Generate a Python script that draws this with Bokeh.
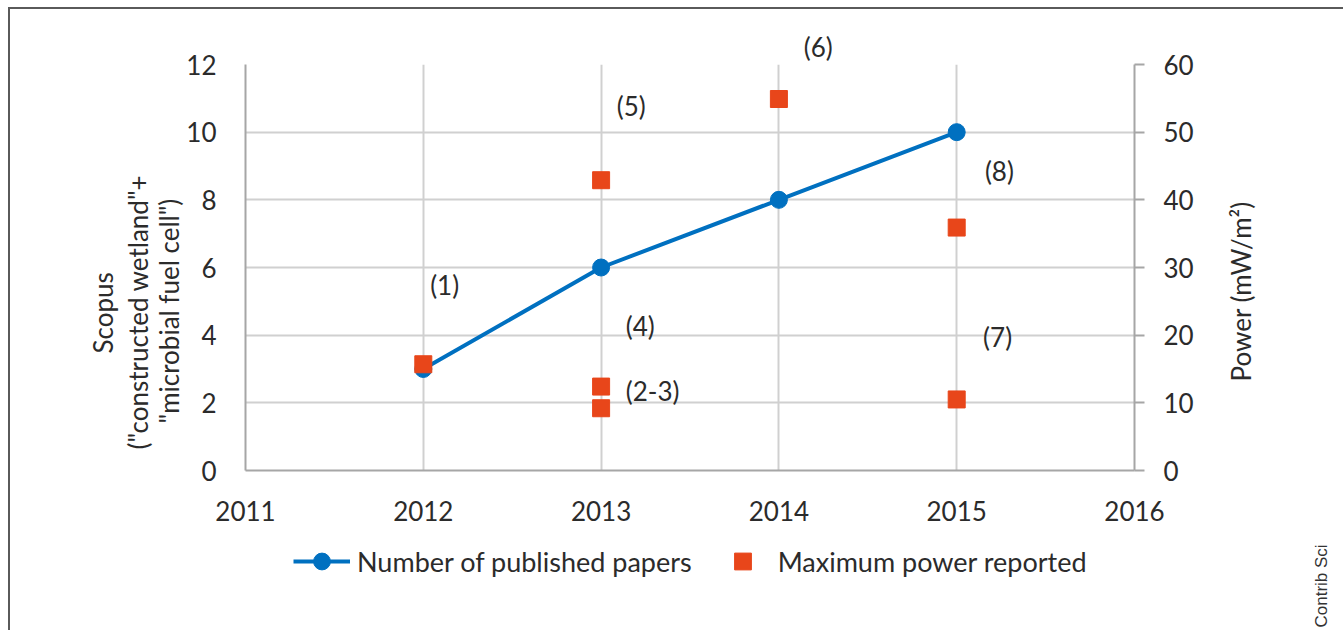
from math import pi
from bokeh.plotting import figure
from bokeh.layouts import column
from bokeh.models import (Range1d, LinearAxis, Legend, LegendItem, LabelSet,
                          ColumnDataSource, FixedTicker, Title)
from bokeh.core.properties import value
from bokeh.embed import file_html
from bokeh.resources import INLINE

# ---- data ----
years = [2012, 2013, 2014, 2015]
papers = [3, 6, 8, 10]
power_years = [2012, 2013, 2013, 2013, 2014, 2015, 2015]
power = [15.7, 42.9, 12.4, 9.2, 54.9, 35.9, 10.5]
ann_text = ["(1)", "(2-3)", "(4)", "(5)", "(6)", "(7)", "(8)"]
ann_x = [2012.12, 2013.29, 2013.22, 2013.17, 2014.23, 2015.23, 2015.24]
ann_y = [5.47, 2.36, 4.26, 10.76, 12.52, 3.96, 8.84]
x_ticks = [2011, 2012, 2013, 2014, 2015, 2016]
left_ticks = [0, 2, 4, 6, 8, 10, 12]
right_ticks = [0, 10, 20, 30, 40, 50, 60]
left_title = ["Scopus", "(\"constructed wetland\"+", "\"microbial fuel cell\")"]
right_title = "Power (mW/m²)"
legend_labels = ["Number of published papers", "Maximum power reported"]
credit = "Contrib Sci"

FONT = "Lato"
TXT = "#2b2b2b"
AX = "#a6a6a6"
GRID = "#d0d0d0"
BLUE = "#0070c0"
RED = "#e8461a"
FS = "26px"
BORDER = "2px solid #5a5a5a"

FRAME_W = 889
p = figure(width=1333, height=521, output_backend="svg", toolbar_location=None,
           x_range=Range1d(2011, 2016), y_range=Range1d(0, 12),
           min_border_left=235, min_border_right=209, min_border_top=55,
           min_border_bottom=60)
p.outline_line_color = None
p.extra_y_ranges = {"power": Range1d(0, 60)}

# axes styling
p.xaxis.ticker = FixedTicker(ticks=x_ticks)
p.yaxis.ticker = FixedTicker(ticks=left_ticks)
for ax in (p.xaxis[0], p.yaxis[0]):
    ax.axis_line_color = AX
    ax.axis_line_width = 2
    ax.major_tick_line_color = None
    ax.minor_tick_line_color = None
    ax.major_label_text_font = FONT
    ax.major_label_text_font_size = FS
    ax.major_label_text_color = TXT
p.yaxis.major_label_standoff = 23
p.xaxis.major_label_standoff = 24

raxis = LinearAxis(y_range_name="power", ticker=FixedTicker(ticks=right_ticks))
raxis.axis_line_color = AX
raxis.axis_line_width = 2
raxis.major_tick_line_color = AX
raxis.major_tick_line_width = 2
raxis.major_tick_out = 10
raxis.major_tick_in = 0
raxis.minor_tick_line_color = None
raxis.major_label_standoff = 19
raxis.major_label_text_font = FONT
raxis.major_label_text_font_size = FS
raxis.major_label_text_color = TXT
p.add_layout(raxis, "right")

# right title: a single rotated tick label on a bare axis, placed at a chosen height
RT_POS = 2.63
rtitle = LinearAxis(ticker=FixedTicker(ticks=[RT_POS]),
                    major_label_overrides={RT_POS: right_title, str(RT_POS): right_title})
rtitle.axis_line_color = None
rtitle.major_tick_line_color = None
rtitle.minor_tick_line_color = None
rtitle.major_tick_out = 0
rtitle.major_label_orientation = pi / 2
rtitle.major_label_standoff = 45
rtitle.major_label_text_font = FONT
rtitle.major_label_text_font_size = FS
rtitle.major_label_text_color = TXT
p.add_layout(rtitle, "right")

p.xgrid.ticker = FixedTicker(ticks=x_ticks)
p.ygrid.ticker = FixedTicker(ticks=left_ticks)
p.xgrid.grid_line_color = GRID
p.ygrid.grid_line_color = GRID
p.xgrid.grid_line_width = 2
p.ygrid.grid_line_width = 2

# series
src = ColumnDataSource(dict(x=years, y=papers))
psrc = ColumnDataSource(dict(x=power_years, y=power))
p.line("x", "y", source=src, line_color=BLUE, line_width=4)
p.scatter("x", "y", source=src, marker="circle", size=17,
          fill_color=BLUE, line_color=BLUE)
p.scatter("x", "y", source=psrc, y_range_name="power", marker="square",
          size=17, fill_color=RED, line_color=RED)

# annotations inside the plot area
inside = [i for i in range(len(ann_text)) if ann_y[i] <= 12]
asrc = ColumnDataSource(dict(x=[ann_x[i] for i in inside],
                             y=[ann_y[i] for i in inside],
                             t=[ann_text[i] for i in inside]))
p.add_layout(LabelSet(x="x", y="y", text="t", source=asrc,
                      text_align="center", text_baseline="middle",
                      text_font=value(FONT), text_font_size=FS, text_color=TXT))
# annotation above the plot area, as a title in the top panel
for i in range(len(ann_text)):
    if ann_y[i] > 12:
        off = (ann_x[i] - 2011) / 5 * FRAME_W - 16
        p.add_layout(Title(text=ann_text[i], align="left", offset=off, standoff=3,
                           text_font=FONT, text_font_size=FS,
                           text_font_style="normal", text_color=TXT), "above")

# left axis title: three stacked titles (closest to axis first)
stand = [-3, -3, 5]
offs = [47, 21, 117]
for t, s, o in zip(reversed(left_title), stand, offs):
    p.add_layout(Title(text=t, align="left", offset=o, standoff=s,
                       text_font=FONT, text_font_size=FS, text_font_style="normal",
                       text_color=TXT), "left")

# bottom strip: legend and credit text
p3 = figure(width=1333, height=100, output_backend="svg", toolbar_location=None,
            x_range=Range1d(2011, 2016), y_range=Range1d(100, 200),
            min_border_left=235, min_border_right=209, min_border_top=0,
            min_border_bottom=0, x_axis_type=None, y_axis_type=None)
p3.outline_line_color = None
p3.extra_y_ranges = {"credit": Range1d(0, 100), "power": Range1d(100, 200)}
# legend proxies share the real data; it lies outside this strip's view
l_r = p3.line(years, papers, line_color=BLUE, line_width=4)
c_r = p3.scatter(years, papers, marker="circle", size=17, fill_color=BLUE,
                 line_color=BLUE)
s_r = p3.scatter(power_years, power, y_range_name="power", marker="square",
                 size=17, fill_color=RED, line_color=RED)
legend = Legend(items=[
    LegendItem(label=legend_labels[0], renderers=[l_r, c_r]),
    LegendItem(label=legend_labels[1], renderers=[s_r]),
], location=(48, 48), orientation="horizontal", padding=0, margin=0,
    border_line_color=None, background_fill_alpha=0,
    glyph_width=57, glyph_height=42, label_standoff=7, spacing=22,
    label_text_font=FONT, label_text_font_size="27px", label_text_color=TXT)
p3.add_layout(legend, "center")

CR_POS = 3
cr_axis = LinearAxis(y_range_name="credit", ticker=FixedTicker(ticks=[CR_POS]),
                     major_label_overrides={CR_POS: credit, str(CR_POS): credit})
cr_axis.axis_line_color = None
cr_axis.major_tick_line_color = None
cr_axis.minor_tick_line_color = None
cr_axis.major_tick_out = 0
cr_axis.major_label_orientation = pi / 2
cr_axis.major_label_standoff = 187
cr_axis.major_label_text_font = "Liberation Sans"
cr_axis.major_label_text_font_size = "17px"
cr_axis.major_label_text_color = "#333333"
p3.add_layout(cr_axis, "right")

layout = column(p, p3)
layout.styles = {"margin-left": "8px", "margin-top": "7px",
                 "border-top": BORDER, "border-left": BORDER}

open("out.html", "w").write(file_html(layout, INLINE))
